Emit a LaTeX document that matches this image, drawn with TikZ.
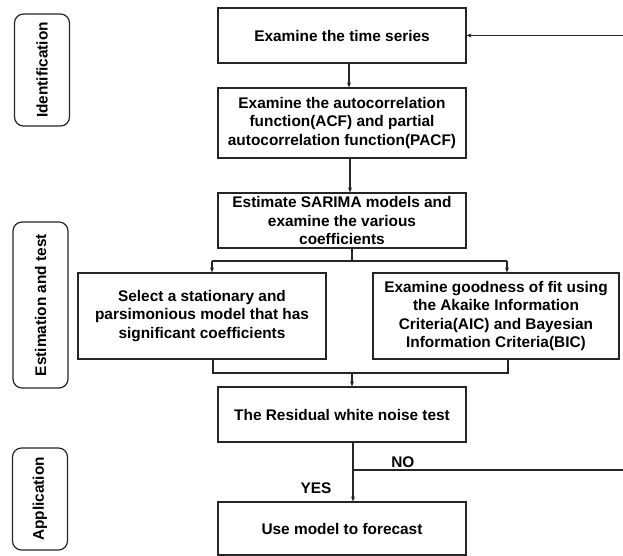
\documentclass[tikz,border=0pt]{standalone}
\usepackage{fontspec}
\setmainfont{Liberation Sans}
\usetikzlibrary{arrows.meta,positioning}

\begin{document}
\begin{tikzpicture}[x=1pt,y=-1pt,->,>={Stealth[length=5pt,width=4pt]},
                    line width=1.2pt,draw=black!85,on grid,
                    every node/.style={font=\bfseries\fontsize{15.4}{18.3}\selectfont},
                    stepbox/.style={draw=black!85,align=center,inner sep=2pt,
                                    minimum width=248pt,minimum height=55pt},
                    phase/.style={draw=black!85,rounded corners=9pt,rotate=90,
                                  minimum height=55pt}]
    \useasboundingbox (0,0) rectangle (623,556);

    % main column
    \node[stepbox]                         (ts)     at (342,35.5) {Examine the time series};
    \node[stepbox,minimum height=70pt]     (acf)    [below=87.5pt of ts]
        {Examine the autocorrelation\\function(ACF) and partial\\autocorrelation function(PACF)};
    \node[stepbox]                         (sarima) [below=97.5pt of acf]
        {Estimate SARIMA models and\\examine the various\\coefficients};
    \node[stepbox,minimum height=86pt]     (select) at (202,316)
        {Select a stationary and\\parsimonious model that has\\significant coefficients};
    \node[stepbox,minimum width=246pt,minimum height=86pt] (good) at (496,316)
        {Examine goodness of fit using\\the Akaike Information\\Criteria(AIC) and Bayesian\\Information Criteria(BIC)};
    \node[stepbox]                         (resid)  [below=194pt of sarima] {The Residual white noise test};
    \node[stepbox,minimum height=53pt]     (use)    [below=114pt of resid] {Use model to forecast};

    % phases
    \node[phase,minimum width=112pt] (ident) at (42,70)    {Identification};
    \node[phase,minimum width=166pt] (estim) at (40.5,305) {Estimation and test};
    \node[phase,minimum width=102pt] (appl)  at (40,499)   {Application};

    \coordinate (fork)  at (352,261);
    \coordinate (join)  at (352,373);
    \coordinate (split) at (353,470);
    \coordinate (back)  at (630,470);

    \draw ([xshift=7pt]ts.south) -- ([xshift=7pt]acf.north);
    \draw ([xshift=8pt]acf.south) -- ([xshift=8pt]acf.south |- sarima.north);
    \draw[-] ([xshift=10pt]sarima.south) -- (fork);
    \draw ([xshift=10pt]select.north |- fork) -- ([xshift=10pt]select.north);
    \draw ([xshift=11pt]good.north |- fork) -- ([xshift=11pt]good.north);
    \draw[-] ([xshift=10pt]select.north |- fork) -- ([xshift=11pt]good.north |- fork);
    \draw[-] ([xshift=11pt]select.south) |- (join) -| ([xshift=12pt]good.south);
    \draw (join) -- (join |- resid.north);
    \draw ([xshift=11pt]resid.south) -- ([xshift=11pt]use.north)
        node[pos=0.77,anchor=east,inner sep=1pt,xshift=-20pt] {YES};
    \draw (split) -- (back) node[pos=0.18,anchor=south,inner sep=2pt] {NO} |- (ts.east);
\end{tikzpicture}
\end{document}
